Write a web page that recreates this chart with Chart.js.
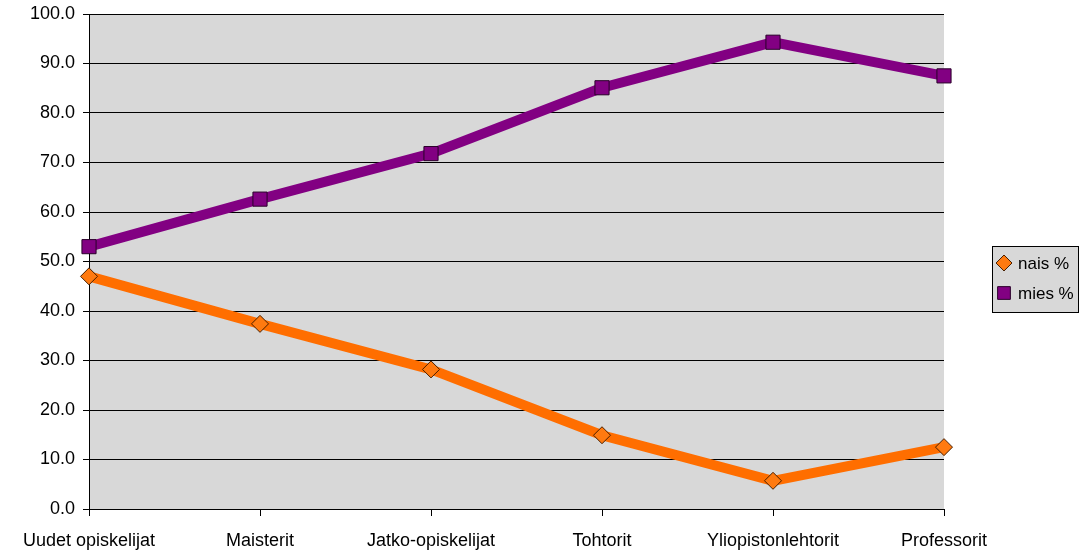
<!DOCTYPE html>
<html>
<head>
<meta charset="utf-8">
<script src="https://cdn.jsdelivr.net/npm/chart.js@4/dist/chart.umd.min.js"></script>
<style>
  body { margin: 0; background: #fff; }
  #wrap { width: 1091px; height: 558px; position: relative; }
</style>
</head>
<body>
<div id="wrap"><canvas id="genderChart"></canvas></div>
<script>
// categories and series
const categories = ["Uudet opiskelijat", "Maisterit", "Jatko-opiskelijat", "Tohtorit", "Yliopistonlehtorit", "Professorit"];
const naisValues = [47.0, 37.4, 28.2, 14.9, 5.7, 12.5];
const miesValues = [53.0, 62.6, 71.8, 85.1, 94.3, 87.5];
const seriesLabels = ["nais %", "mies %"];

// gray plot background
const plotBackground = {
    id: 'plotBackground',
    beforeDraw(chart) {
        const { ctx, chartArea: a } = chart;
        ctx.save();
        ctx.fillStyle = '#d8d8d8';
        ctx.fillRect(a.left, a.top, a.right - a.left, a.bottom - a.top);
        ctx.restore();
    }
};

// boxed legend to the right of the plot
const boxLegend = {
    id: 'boxLegend',
    afterDraw(chart) {
        const ctx = chart.ctx;
        const x = 992, y = 246, w = 86, h = 66;
        ctx.save();
        ctx.fillStyle = '#d8d8d8';
        ctx.fillRect(x, y, w, h);
        ctx.strokeStyle = '#000';
        ctx.lineWidth = 1;
        ctx.strokeRect(x + 0.5, y + 0.5, w, h);
        chart.data.datasets.forEach((ds, i) => {
            const cy = y + 17 + i * 30;
            const opts = {
                pointStyle: ds.pointStyle,
                radius: i === 0 ? 8 : 9,
                borderWidth: 1
            };
            ctx.fillStyle = ds.pointBackgroundColor;
            ctx.strokeStyle = ds.pointBorderColor;
            ctx.lineWidth = 1;
            Chart.helpers.drawPoint(ctx, opts, x + 12, cy);
            ctx.fillStyle = '#000';
            ctx.font = '17px "Liberation Sans", Arial, sans-serif';
            ctx.textBaseline = 'middle';
            ctx.fillText(ds.label, x + 26, cy + 1);
        });
        ctx.restore();
    }
};

const ctx = document.getElementById('genderChart').getContext('2d');
const genderChart = new Chart(ctx, {
    type: 'line',
    data: {
        labels: categories,
        datasets: [
            {
                label: seriesLabels[0],
                data: naisValues,
                borderColor: '#ff6e00',
                borderWidth: 10,
                backgroundColor: '#ff7a10',
                pointStyle: 'rectRot',
                pointRadius: 8.5,
                pointHoverRadius: 8.5,
                pointBackgroundColor: '#ff7a10',
                pointBorderColor: '#4a2000',
                pointBorderWidth: 1,
                tension: 0
            },
            {
                label: seriesLabels[1],
                data: miesValues,
                borderColor: '#820082',
                borderWidth: 10,
                backgroundColor: '#820082',
                pointStyle: 'rect',
                pointRadius: 10,
                pointHoverRadius: 10,
                pointBackgroundColor: '#820082',
                pointBorderColor: '#2a002a',
                pointBorderWidth: 1,
                tension: 0
            }
        ]
    },
    options: {
        responsive: true,
        maintainAspectRatio: false,
        animation: false,
        layout: { padding: { top: 14, right: 147, left: 0, bottom: 0 } },
        scales: {
            x: {
                offset: false,
                grid: { drawOnChartArea: false, drawTicks: true, tickLength: 7, color: '#000' },
                border: { display: true, color: '#000', width: 1 },
                ticks: {
                    color: '#000',
                    padding: 14,
                    maxRotation: 0,
                    autoSkip: false,
                    font: { family: '"Liberation Sans", Arial, sans-serif', size: 18 }
                },
                afterFit(scale) { scale.height = 49; }
            },
            y: {
                min: 0,
                max: 100,
                grid: { color: '#000', lineWidth: 1, drawTicks: true, tickLength: 6 },
                border: { display: true, color: '#000', width: 1 },
                ticks: {
                    stepSize: 10,
                    color: '#000',
                    padding: 8,
                    font: { family: '"Liberation Sans", Arial, sans-serif', size: 18 },
                    callback: v => v.toFixed(1)
                },
                afterFit(scale) {
                    scale.width = 89;
                    scale.paddingTop = 0;
                    scale.paddingBottom = 0;
                }
            }
        },
        plugins: {
            legend: { display: false },
            tooltip: { enabled: false }
        }
    },
    plugins: [plotBackground, boxLegend]
});
</script>
</body>
</html>
